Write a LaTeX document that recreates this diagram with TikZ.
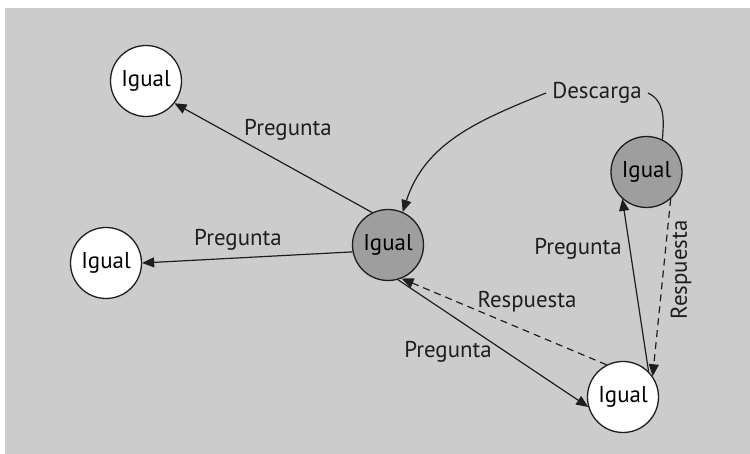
\documentclass[tikz,border=0pt]{standalone}
\usepackage{fontspec}
\setmainfont{PT Sans}
\usetikzlibrary{arrows.meta}
\definecolor{panel}{RGB}{204,204,204}
\definecolor{peerdark}{RGB}{158,158,158}
\definecolor{ink}{RGB}{30,30,30}
\tikzset{
  peer/.style={circle, draw=ink, line width=1.3bp, minimum size=71bp, inner sep=0pt,
    font=\fontsize{23}{27}\selectfont},
  peerwhite/.style={peer, fill=white},
  peergray/.style={peer, fill=peerdark},
  lbl/.style={font=\fontsize{23}{27}\selectfont, text=ink, inner sep=0pt},
  link/.style={draw=ink, line width=1.2bp, -{Triangle[length=12bp,width=10bp]}},
  reply/.style={link, dash pattern=on 7bp off 5bp},
}
\begin{document}
\begin{tikzpicture}[x=1bp,y=1bp]
  % page and grey panel
  \fill[white] (0,0) rectangle (750,454);
  \fill[panel] (5,0) rectangle (750,446);
  \useasboundingbox (0,0) rectangle (750,454);

  % peers
  \node[peerwhite] (tl) at (146,373) {Igual};
  \node[peerwhite] (l)  at (106,191) {Igual};
  \node[peergray]  (c)  at (388,209) {Igual};
  \node[peergray]  (r)  at (646.5,282) {Igual};
  \node[peerwhite] (b)  at (623,57) {Igual};

  % download curve, interrupted by its label
  \node[lbl, inner xsep=6bp] (desc) at (597,361) {Descarga};
  \draw[draw=ink, line width=1.2bp] (r.64) to[out=85,in=-25] (desc.east);
  \draw[link] (desc.west) to[out=202,in=72] (c.66);

  % queries and replies
  \draw[link] (c.116) -- (tl.-38);
  \draw[link] (c.191) -- (l.0);
  \draw[link] (c.-74) -- (b.196);
  \draw[reply] (b.117) -- (c.-68);
  \draw[link] (b.45) -- (r.228);
  \draw[reply] (r.-48) -- (b.35);

  % edge labels
  \node[lbl] (q1) at (288,324) {Pregunta};
  \node[lbl] (q2) at (238,214) {Pregunta};
  \node[lbl] (q3) at (448,102) {Pregunta};
  \node[lbl] (q4) at (578,205) {Pregunta};
  \node[lbl] (a1) at (527,152) {Respuesta};
  \node[lbl, rotate=90] (a2) at (681,184) {Respuesta};
\end{tikzpicture}
\end{document}
